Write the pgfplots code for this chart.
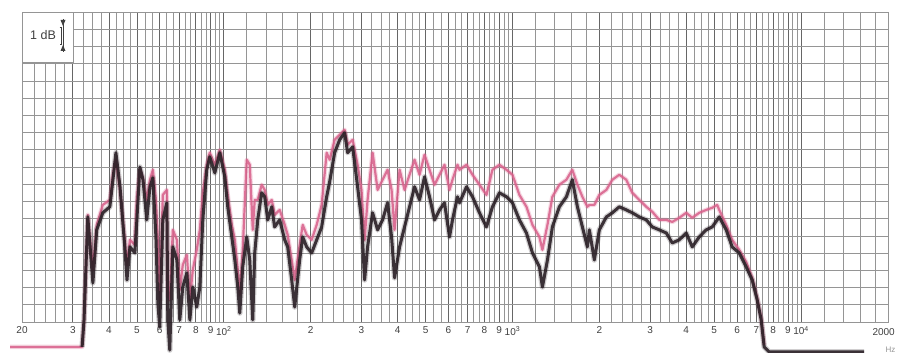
\documentclass[border=0pt]{standalone}
\usepackage{pgfplots}
\usepackage{pgfplotstable}
\pgfplotsset{compat=1.18}
\usepackage{fontspec}
\setmainfont{Liberation Sans}
\definecolor{gridc}{HTML}{959595}
\definecolor{gridmaj}{HTML}{666666}
\definecolor{blk}{HTML}{2A2026}
\definecolor{pnk}{HTML}{D8608A}
\definecolor{lab}{HTML}{404040}

\pgfplotstableread{
f u
32.3 -1.45
32.8 0.12
33.8 6.10
35.2 2.27
36.3 5.35
38.1 6.34
40.3 6.69
41.3 8.26
42.3 9.83
43.7 7.85
45.4 4.36
46.2 2.44
47.3 4.36
49.2 4.01
50.0 5.93
51.2 9.00
52.5 8.26
54.1 5.93
55.5 7.85
56.8 8.37
58.2 4.94
59.1 1.10
60.0 -0.29
61.5 5.93
63.5 6.92
64.0 0.12
65.0 -1.63
66.6 4.36
68.8 3.60
70.4 0.12
72.1 2.03
74.5 2.85
76.3 0.12
78.1 2.03
80.6 0.87
82.6 2.03
84.6 5.93
87.3 8.84
89.4 9.59
93.1 8.66
96.9 9.83
100.8 8.43
103.2 6.69
106.6 4.94
109.2 3.60
111.8 2.03
113.6 0.52
116.3 3.20
120.1 4.94
123.0 3.60
126.0 0.12
128.0 4.01
131.1 5.93
135.3 7.50
138.6 7.27
142.0 5.93
146.6 6.69
150.0 5.52
156.2 5.93
162.6 4.77
166.5 4.36
171.9 2.44
176.1 0.87
183.2 3.60
187.7 4.94
193.7 4.36
201.6 4.01
209.8 4.77
218.3 5.52
227.2 7.27
232.7 8.14
242.1 9.83
252.0 10.58
262.2 10.99
268.6 9.83
279.5 10.17
290.8 7.85
300.0 5.93
307.5 2.44
314.9 4.36
327.7 6.34
341.1 5.35
355.0 5.93
369.4 6.92
381.3 4.94
390.6 2.56
406.4 4.36
422.9 5.52
440.1 6.69
458.0 7.85
476.6 7.09
496.0 8.43
516.2 7.27
537.2 5.93
559.0 6.51
581.6 6.92
605.3 4.94
619.9 5.93
645.1 7.27
655.5 6.92
693.4 7.85
727.3 7.27
768.8 6.34
812.9 5.52
852.5 6.69
901.4 7.50
953.3 7.27
1000 6.92
1057 5.93
1118 5.17
1173 4.01
1240 3.20
1270 2.03
1322 3.60
1375 5.52
1454 6.69
1538 7.27
1612 8.26
1679 6.69
1747 5.52
1818 4.36
1847 5.35
1922 3.60
2000 5.35
2115 6.10
2218 6.34
2345 6.69
2479 6.51
2601 6.34
2751 6.10
2908 5.93
3051 5.52
3226 5.35
3411 5.17
3578 4.59
3783 4.77
4000 5.17
4196 4.36
4437 4.94
4691 5.35
4921 5.52
5121 5.93
5203 6.10
5501 5.35
5770 4.36
6101 4.01
6451 3.20
6770 2.44
7045 1.28
7273 0.12
7449 -1.45
7749 -1.74
16520 -1.74
}\blacktrace

\pgfplotstableread{
f u
18.2 -1.45
32.3 -1.45
32.8 0.12
33.8 6.22
35.2 3.02
36.3 5.64
38.1 6.80
40.3 7.09
41.3 8.60
42.3 9.40
43.7 7.67
45.4 4.77
46.2 3.31
47.3 4.77
49.2 4.48
50.0 7.20
51.2 8.84
52.5 8.30
54.1 7.09
55.5 8.26
56.8 8.84
58.2 7.09
59.1 4.77
60.0 1.28
61.5 7.38
63.5 7.67
64.0 1.50
65.0 1.28
66.6 5.35
68.8 4.77
70.4 1.86
72.1 3.31
74.5 3.90
76.3 1.28
78.1 3.02
80.6 4.19
82.6 5.35
84.6 7.50
87.3 9.13
89.4 9.83
93.1 9.13
96.9 10.00
100.8 8.84
103.2 7.38
106.6 5.64
109.2 4.77
111.8 3.02
113.6 1.57
116.3 4.19
120.1 9.42
123.0 9.13
126.0 5.35
128.0 7.09
131.1 7.09
135.3 7.97
138.6 7.67
142.0 6.80
146.6 7.09
150.0 6.22
156.2 6.51
162.6 5.64
166.5 5.06
171.9 3.60
176.1 2.44
183.2 4.48
187.7 5.64
193.7 5.06
201.6 4.77
209.8 5.64
218.3 6.80
227.2 9.83
232.7 9.42
242.1 10.58
252.0 10.87
262.2 11.16
268.6 10.29
279.5 10.58
290.8 9.13
300.0 7.67
307.5 4.77
314.9 7.09
327.7 9.83
341.1 7.67
355.0 8.26
369.4 8.84
381.3 7.67
390.6 5.35
406.4 8.84
422.9 7.67
440.1 8.55
458.0 9.42
476.6 8.55
496.0 9.71
516.2 8.84
537.2 7.97
559.0 8.55
581.6 9.13
605.3 7.67
619.9 8.26
645.1 9.13
655.5 8.84
693.4 9.13
727.3 8.55
768.8 7.97
812.9 7.38
852.5 8.84
901.4 9.13
953.3 8.84
1000 8.55
1057 7.38
1118 6.69
1173 5.64
1240 4.94
1270 4.19
1322 5.64
1375 7.27
1454 7.97
1538 8.26
1612 8.84
1679 7.97
1747 7.27
1818 6.69
1847 6.80
1922 6.80
2000 7.38
2115 7.67
2218 8.26
2345 8.55
2479 8.26
2601 7.50
2751 7.09
2908 6.69
3051 6.40
3226 5.93
3411 5.93
3578 5.81
3783 6.05
4000 6.34
4196 6.05
4437 6.34
4691 6.51
4921 6.63
5121 6.80
5203 6.51
5501 5.64
5770 4.77
6101 4.19
6451 3.49
6770 2.56
7045 1.40
7273 0.23
7449 -1.34
}\pinktrace

\begin{document}
\begin{tikzpicture}
\begin{axis}[
  at={(0pt,0pt)}, anchor=south west,
  scale only axis, width=866pt, height=310pt,
  xmode=log, log basis x=10,
  xmin=20, xmax=20000, ymin=0, ymax=18,
  clip=false,
  axis line style={draw=gridc, line width=0.7pt},
  xtick={20,30,40,50,60,70,80,90,100,200,300,400,500,600,700,800,900,1000,2000,3000,4000,5000,6000,7000,8000,9000,10000,20000},
  xticklabels={20,3,4,5,6,7,8,9,10\textsuperscript{2},2,3,4,5,6,7,8,9,10\textsuperscript{3},2,3,4,5,6,7,8,9,10\textsuperscript{4},{}},
  minor xtick={22,24,26,28,32.5,35,37.5,42.5,45,47.5,53.33,56.67,63.33,66.67,73.33,76.67,83.33,86.67,93.33,96.67,
    120,140,160,180,220,240,260,280,325,350,375,425,450,475,533.3,566.7,633.3,666.7,733.3,766.7,833.3,866.7,933.3,966.7,
    1200,1400,1600,1800,2200,2400,2600,2800,3250,3500,3750,4250,4500,4750,5333,5667,6333,6667,7333,7667,8333,8667,9333,9667,
    12000,14000,16000,18000},
  ytick={0,1,...,18}, yticklabels={},
  grid=both,
  major x grid style={draw=gridmaj, line width=0.75pt},
  minor x grid style={draw=gridc, line width=0.5pt},
  major y grid style={draw=gridc, line width=0.6pt},
  major tick length=0pt, minor tick length=0pt,
  xticklabel style={font=\fontsize{10}{11}\selectfont, text=lab, yshift=-1pt},
]
\addplot[pnk, line width=4.5pt, line join=round, opacity=0.25] table[x=f,y=u]{\pinktrace};
\addplot[pnk, line width=2.2pt, line join=round, opacity=0.85] table[x=f,y=u]{\pinktrace};
\addplot[blk, line width=5.5pt, line join=round, opacity=0.22] table[x=f,y=u]{\blacktrace};
\addplot[blk, line width=3pt, line join=round, opacity=0.9] table[x=f,y=u]{\blacktrace};
\end{axis}
% 1 dB legend box
\filldraw[fill=white, draw=gridc, line width=0.7pt] (0pt,260pt) rectangle (51pt,310pt);
\node[font=\fontsize{12.5}{13}\selectfont, text=lab] at (21pt,287pt) {1 dB};
\draw[lab, line width=0.6pt] (41pt,303pt) -- (41pt,270pt);
\fill[lab] (38.5pt,302pt) -- (43.5pt,302pt) -- (41pt,296pt) -- cycle;
\fill[lab] (38.5pt,271pt) -- (43.5pt,271pt) -- (41pt,277pt) -- cycle;
\draw[lab, line width=0.5pt] (37.5pt,295pt) -- (39pt,295pt) -- (39pt,278pt) -- (37.5pt,278pt);
\node[font=\fontsize{10}{11}\selectfont, text=lab, anchor=east, inner sep=1pt] at (874pt,-10pt) {2000};
\node[font=\fontsize{8}{9}\selectfont, text=gridc, anchor=west] at (860pt,-28pt) {Hz};
\pgfresetboundingbox
\path[use as bounding box] (-22pt,-31pt) rectangle (875pt,322pt);
\end{tikzpicture}
\end{document}
